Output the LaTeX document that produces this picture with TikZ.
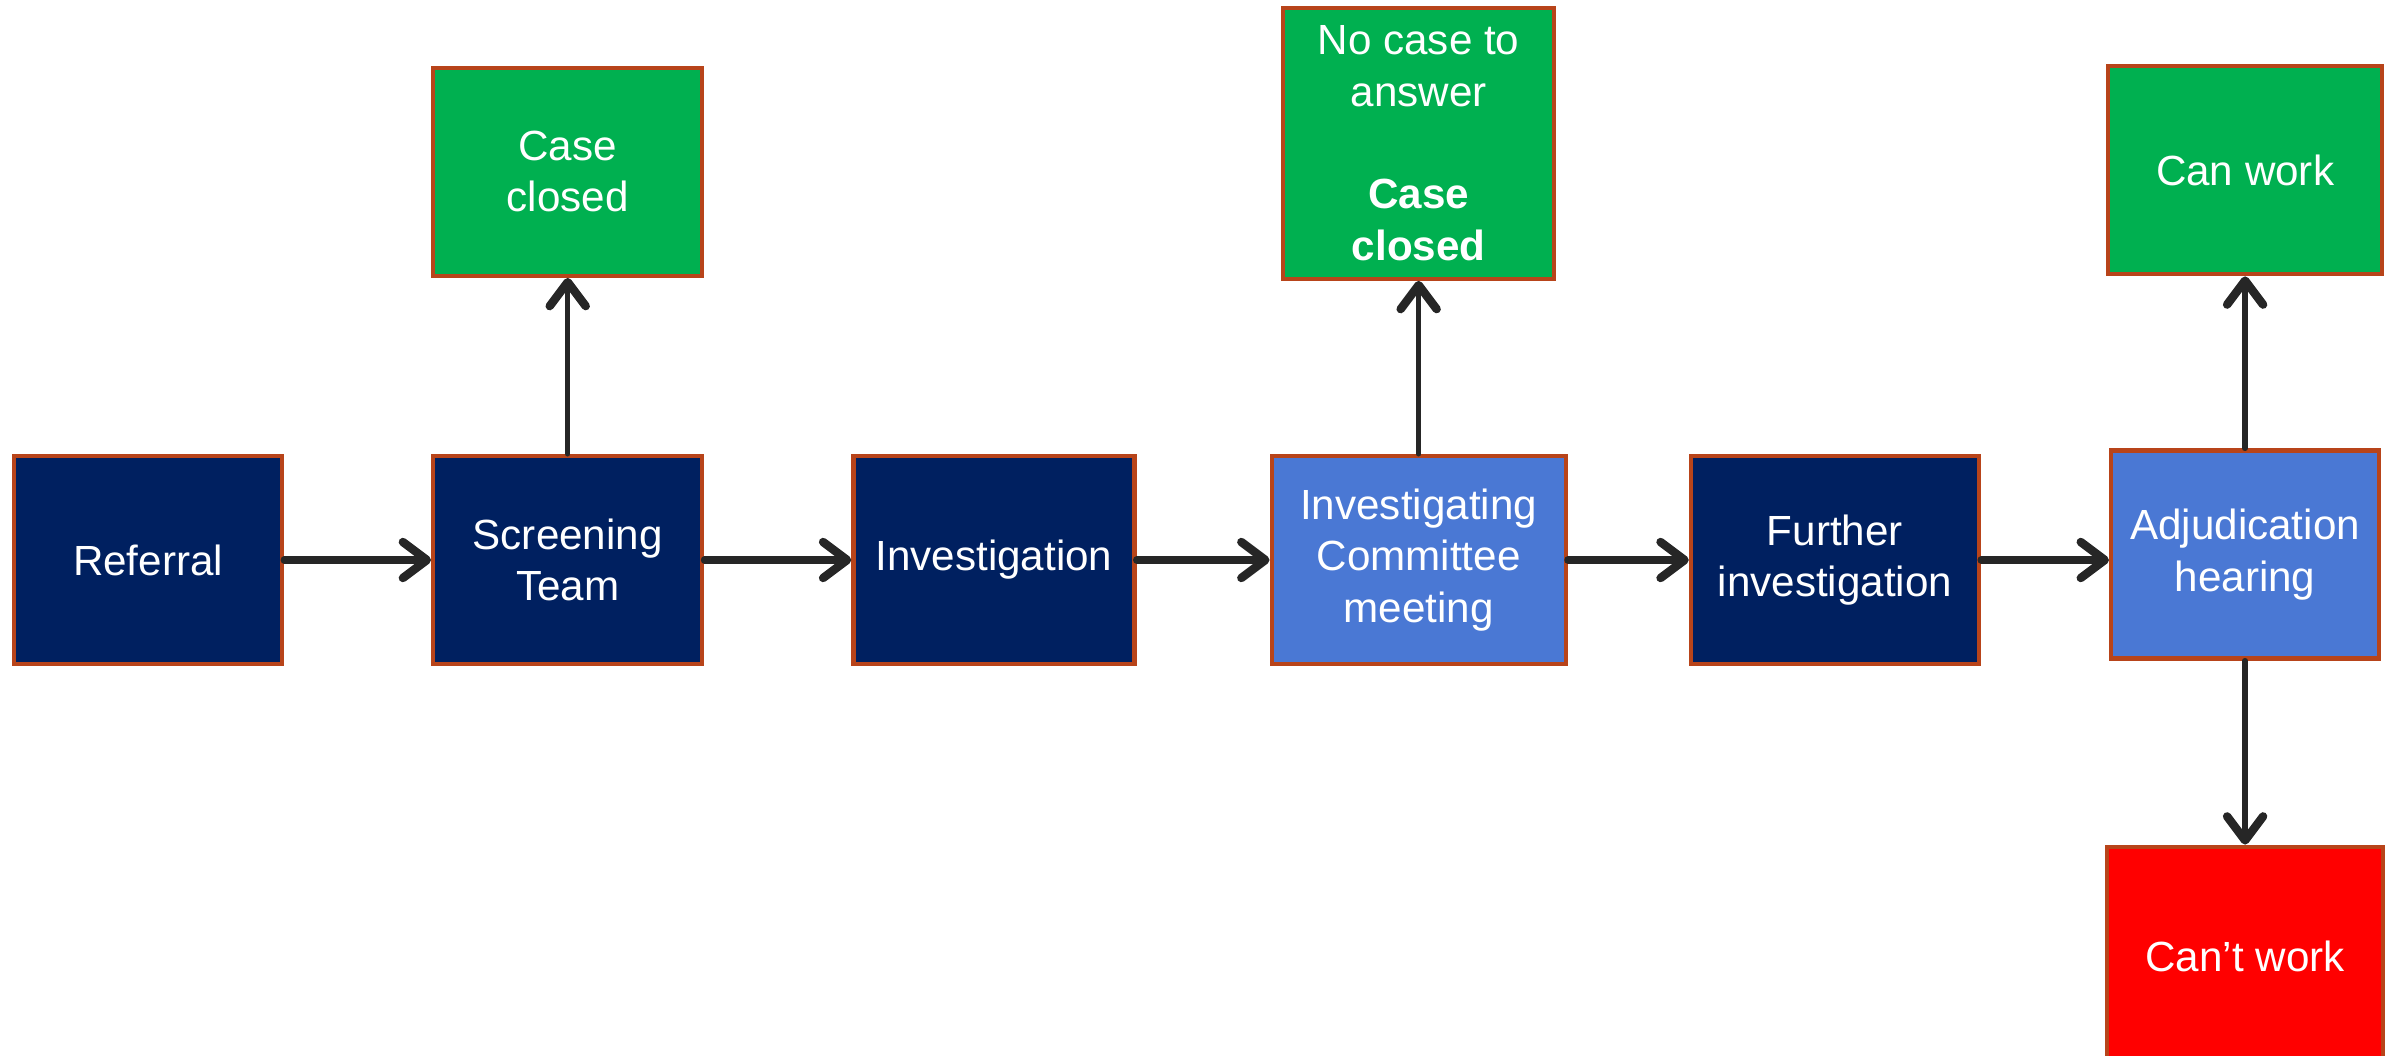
\documentclass[tikz,border=0pt]{standalone}
\usepackage{fontspec}
\setmainfont{Liberation Sans}
\usetikzlibrary{arrows.meta,positioning}
\definecolor{navy}{HTML}{002060}
\definecolor{sky}{HTML}{4A78D4}
\definecolor{okgreen}{HTML}{00B050}
\definecolor{badred}{HTML}{FF0000}
\definecolor{edge}{HTML}{B8441A}
\definecolor{arrowgray}{HTML}{262626}
\begin{document}
\begin{tikzpicture}[node distance=1.75cm and 1.4cm,box/.style={draw=edge,line width=1.2pt,align=center,text=white,minimum height=2.08cm,inner sep=0pt,font=\fontsize{12}{14.6}\selectfont},dark/.style={box,fill=navy},light/.style={box,fill=sky},ok/.style={box,fill=okgreen},bad/.style={box,fill=badred},arr/.style={draw=arrowgray,line width=2pt,line cap=round,-{Straight Barb[length=2.4mm,width=3.6mm,round,line width=2.4pt]}},uparr/.style={arr,line width=1.5pt}]
\useasboundingbox (0,0) rectangle (23.95,10.55);
\node[dark,minimum width=2.68cm] (ref) at (1.48,4.95) {Referral};
\node[dark,minimum width=2.69cm,right=1.47cm of ref] (screen) {Screening\\Team};
\node[dark,minimum width=2.81cm,right=1.47cm of screen] (inv) {Investigation};
\node[light,minimum width=2.94cm,right=1.33cm of inv] (icm) {Investigating\\Committee\\meeting};
\node[dark,minimum width=2.88cm,right=1.21cm of icm] (further) {Further\\investigation};
\node[light,minimum width=2.68cm,right=1.28cm of further,yshift=0.055cm] (adj) {Adjudication\\hearing};
\node[ok,minimum width=2.69cm,above=1.76cm of screen] (closed) {Case\\closed};
\node[ok,minimum width=2.71cm,minimum height=2.71cm,above=1.73cm of icm] (nocase) {No case to\\answer\\~\\\textbf{Case}\\\textbf{closed}};
\node[ok,minimum width=2.74cm,above=1.72cm of adj] (canwork) {Can work};
\node[bad,minimum width=2.76cm,minimum height=2.2cm,below=1.84cm of adj] (cantwork) {Can’t work};
\draw[arr](ref)--(screen);\draw[arr](screen)--(inv);\draw[arr](inv)--(icm);\draw[arr](icm)--(further);\draw[arr](further.east)--(further.east -| adj.west);
\draw[uparr](screen)--(closed);\draw[uparr](icm)--(nocase);\draw[uparr](adj)--(canwork);\draw[uparr](adj)--(cantwork);
\end{tikzpicture}
\end{document}
